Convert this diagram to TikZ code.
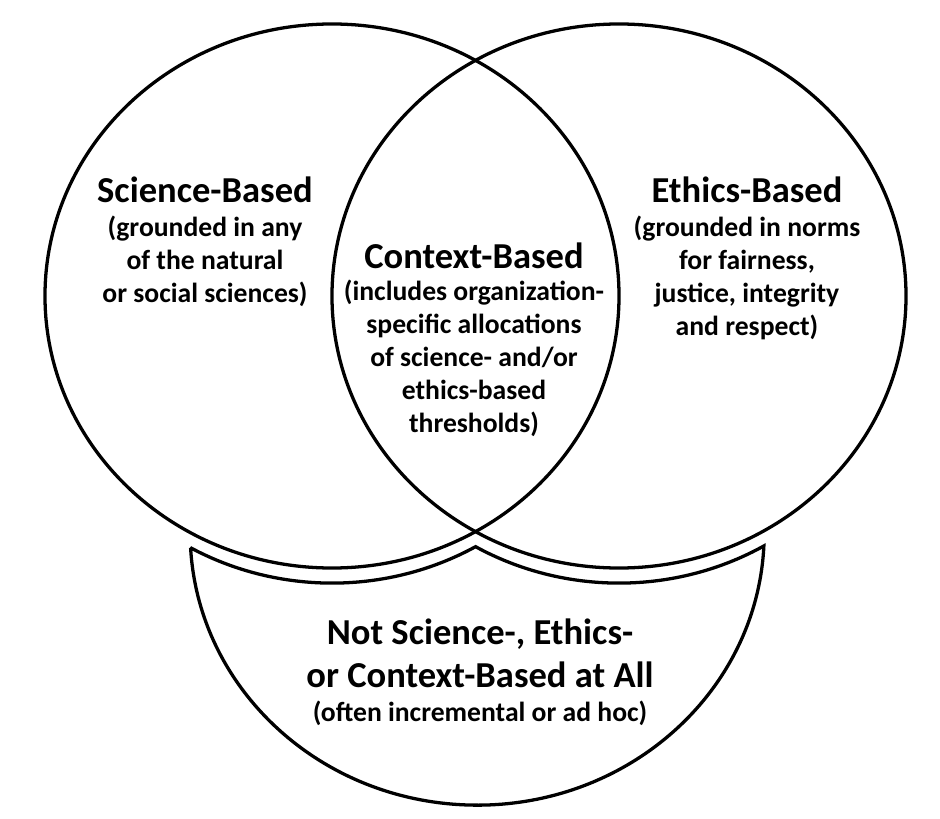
\documentclass[tikz,border=0pt]{standalone}
\usepackage{fontspec}
\setmainfont{Carlito}

\tikzset{
  head/.style={font=\bfseries\fontsize{15.6}{18.3}\selectfont, align=center, inner sep=0pt},
  sub/.style={font=\bfseries\fontsize{11.8}{14.1}\selectfont, align=center, inner sep=0pt},
}

\begin{document}
\begin{tikzpicture}[x=0.15mm, y=0.15mm, line width=1.4pt]
    \useasboundingbox (0,0) rectangle (940,818);

    % the two upper sets
    \draw (332,522) ellipse [x radius=43.05mm, y radius=40.8mm];
    \draw (619,522) ellipse [x radius=43.05mm, y radius=40.8mm];

    % the set below them
    \draw (190.3,270.4)
        arc[start angle=240.4, end angle=300, x radius=43.05mm, y radius=40.8mm]
        arc[start angle=240, end angle=300.3, x radius=43.05mm, y radius=40.8mm]
        arc[start angle=357.3, end angle=183.1, x radius=43.05mm, y radius=40.8mm]
        -- cycle;

    \node[head] (science) at (205,628) {Science-Based};
    \node[sub] (sciencetxt) at (205,557) {(grounded in any\\of the natural\\or social sciences)};

    \node[head] (ethics) at (747,628) {Ethics-Based};
    \node[sub] (ethicstxt) at (747,540.5) {(grounded in norms\\for fairness,\\justice, integrity\\and respect)};

    \node[head] (context) at (474,562) {Context-Based};
    \node[sub] (contexttxt) at (474,459.5) {(includes organization-\\specific allocations\\of science- and/or\\ethics-based\\thresholds)};

    \node[head] (none) at (480,164.5) {Not Science-, Ethics-\\or Context-Based at All};
    \node[sub] (nonetxt) at (480,105) {(often incremental or ad hoc)};
\end{tikzpicture}
\end{document}
